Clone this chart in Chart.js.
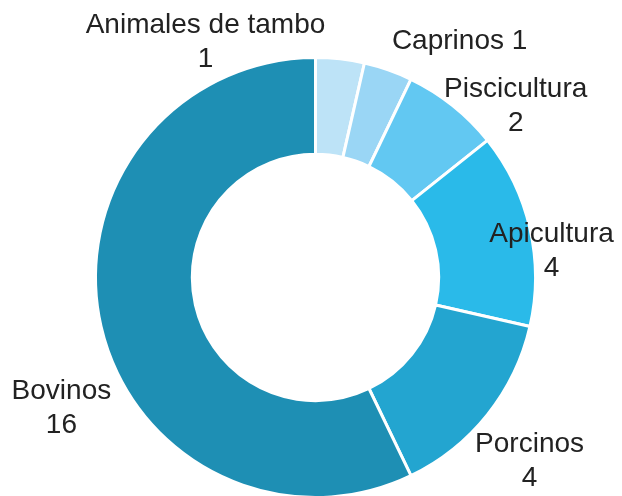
<!DOCTYPE html>
<html>
<head>
<meta charset="utf-8">
<script src="https://cdn.jsdelivr.net/npm/chart.js@4/dist/chart.umd.min.js"></script>
<style>
  html, body { margin: 0; padding: 0; background: #fff; overflow: hidden; }
  #wrap { position: relative; width: 622px; height: 554px; }
</style>
</head>
<body>
<div id="wrap"><canvas id="grafico" width="622" height="554"></canvas></div>
<script>
// datos
var categorias = ["Animales de tambo", "Caprinos", "Piscicultura", "Apicultura", "Porcinos", "Bovinos"];
var cantidades = [1, 1, 2, 4, 4, 16];
var colores = ["#bde3f7", "#9ad6f5", "#62c8f2", "#2abae9", "#23a5d0", "#1e8fb4"];

// posicion de cada etiqueta respecto al centro, en radios (x, primera linea)
var posEtiquetas = [
  [-0.50, -1.11, true],
  [0.655, -1.04, false],
  [0.91, -0.82, true],
  [1.073, -0.16, true],
  [0.973, 0.795, true],
  [-1.155, 0.55, true]
];

var etiquetas = {
  id: "etiquetas",
  afterDatasetsDraw: function(chart) {
    var ctx = chart.ctx;
    var arcs = chart.getDatasetMeta(0).data;
    if (!arcs.length) return;
    var cx = arcs[0].x, cy = arcs[0].y, r = arcs[0].outerRadius;
    ctx.save();
    ctx.font = "28px 'Liberation Sans', Arial, sans-serif";
    ctx.fillStyle = "#222";
    ctx.textAlign = "center";
    ctx.textBaseline = "alphabetic";
    for (var i = 0; i < categorias.length; i++) {
      var p = posEtiquetas[i];
      var x = cx + p[0] * r, y = cy + p[1] * r;
      if (p[2]) {
        ctx.fillText(categorias[i], x, y);
        ctx.fillText(String(cantidades[i]), x, y + 34);
      } else {
        ctx.fillText(categorias[i] + " " + cantidades[i], x, y);
      }
    }
    ctx.restore();
  }
};

new Chart(document.getElementById("grafico"), {
  type: "doughnut",
  data: {
    labels: categorias,
    datasets: [{
      data: cantidades,
      backgroundColor: colores,
      borderColor: "#ffffff",
      borderWidth: 3,
      hoverOffset: 0
    }]
  },
  options: {
    responsive: false,
    animation: false,
    cutout: "56%",
    layout: { padding: { top: 56, bottom: 55, left: 94, right: 85 } },
    plugins: {
      legend: { display: false },
      tooltip: { enabled: false }
    }
  },
  plugins: [etiquetas]
});
</script>
</body>
</html>
